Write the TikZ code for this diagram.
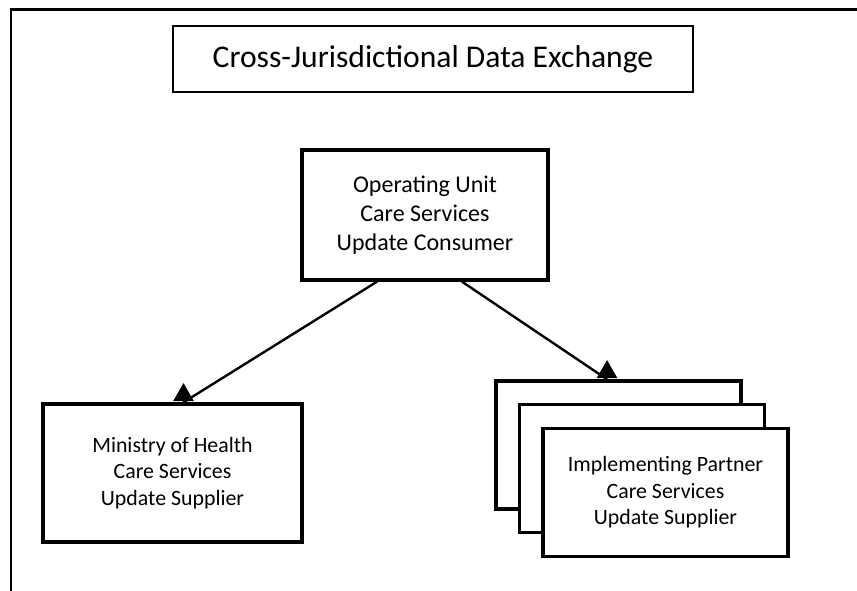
\documentclass[tikz,border=0pt]{standalone}
\usepackage{fontspec}
\setmainfont{Carlito}
\usetikzlibrary{shapes.geometric}
\tikzset{
  framebox/.style={draw, line width=0.8pt, fill=white, inner sep=0pt, minimum width=390pt, minimum height=49.5pt, font=\fontsize{23.7}{28}\selectfont},
  bigbox/.style={draw, line width=2.5pt, fill=white, inner sep=0pt, align=center, minimum width=184.5pt, minimum height=97.5pt, font=\fontsize{18}{21.75}\selectfont},
  smallbox/.style={draw, line width=2.5pt, fill=white, inner sep=0pt, align=center, minimum width=183.75pt, minimum height=96pt, font=\fontsize{16.4}{20}\selectfont},
  conn/.style={draw, line width=1.8pt},
  tipmark/.style={regular polygon, regular polygon sides=3, fill=black, inner sep=0pt, minimum size=18pt, anchor=south},
}
\begin{document}
\begin{tikzpicture}[x=0.75pt,y=-0.75pt]
\useasboundingbox (0,0) rectangle (857,591);
% outer frame
\draw[line width=1.6pt] (11,591) -- (11,9.5) -- (857,9.5);
% title
\node[framebox] (title) at (433,59) {Cross-Jurisdictional Data Exchange};
% top box
\node[bigbox] (top) at (425,215) {Operating Unit\\Care Services\\Update Consumer};
% ministry
\node[smallbox, minimum width=194.25pt, minimum height=103.5pt] (min) at (172.5,473) {Ministry of Health\\Care Services\\Update Supplier};
% stacked partner boxes
\node[smallbox] (ip1) at (618.5,445) {};
\node[smallbox] (ip2) at (642,468.5) {};
\node[smallbox] (ip3) at (665.5,492.5) {Implementing Partner\\Care Services\\Update Supplier};
% connectors
\draw[conn] ([xshift=-36pt]top.south) -- ([xshift=8.25pt]min.north) node[tipmark] {};
\draw[conn] ([xshift=27.75pt]top.south) -- ([xshift=-8.6pt]ip1.north) node[tipmark] {};
\end{tikzpicture}
\end{document}
